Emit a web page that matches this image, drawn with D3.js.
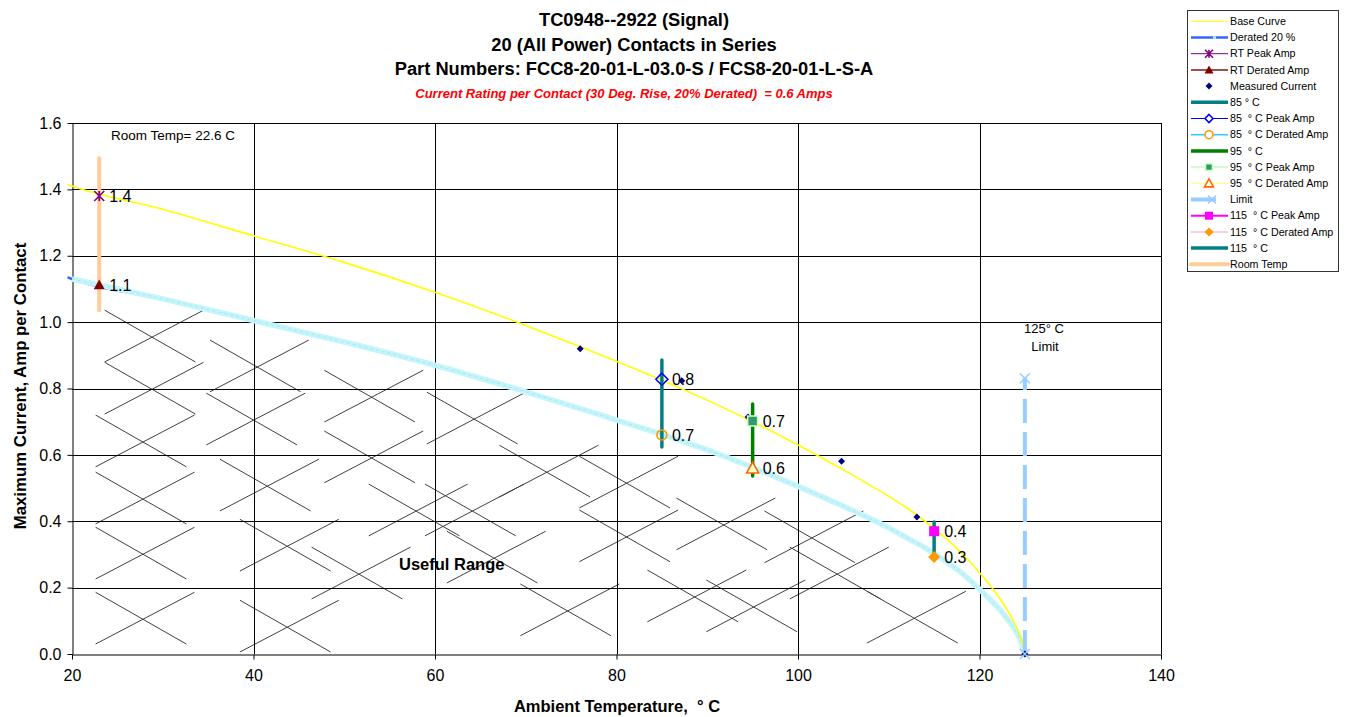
<!DOCTYPE html>
<html>
<head>
<meta charset="utf-8">
<script src="https://cdn.jsdelivr.net/npm/d3@7"></script>
<style>
  body { margin: 0; background: #fff; }
  text { font-family: Arial, "Liberation Sans", sans-serif; }
</style>
</head>
<body>
<svg id="chart" width="1350" height="717"></svg>
<script>

// Values
var baseTemps = [19.5, 20, 30, 40, 50, 60, 70, 76, 80, 85, 90, 95, 100, 105, 110, 112, 114, 116, 118, 120, 121.5, 123, 124, 124.6, 125];
var baseAmps  = [1.415, 1.41, 1.34, 1.26, 1.18, 1.09, 0.99, 0.926, 0.882, 0.825, 0.765, 0.70, 0.63, 0.555, 0.475, 0.44, 0.40, 0.355, 0.305, 0.245, 0.195, 0.135, 0.085, 0.045, 0];

var deratedTemps = [19.5, 20, 30, 40, 50, 60, 70, 80, 85, 90, 95, 100, 105, 110, 112, 114, 116, 118, 120, 121.5, 123, 124, 124.6, 125];
var deratedAmps  = [1.135, 1.13, 1.07, 1.005, 0.94, 0.87, 0.79, 0.705, 0.662, 0.615, 0.562, 0.505, 0.445, 0.38, 0.35, 0.32, 0.285, 0.245, 0.195, 0.155, 0.108, 0.068, 0.036, 0];

var measuredTemps = [76, 87.2, 94.5, 104.8, 113.1, 125];
var measuredAmps  = [0.92, 0.823, 0.714, 0.581, 0.413, 0];

// vertical bars: room temp, 85, 95, 115
var barTemps = [23, 85, 95, 115];
var barLow   = [1.036, 0.624, 0.536, 0.292];
var barHigh  = [1.494, 0.886, 0.753, 0.398];

var limitTemp = 125;
var limitAmps = [0, 0.831];

// labelled points
var pointTemps  = [23, 23, 85, 85, 95, 95, 115, 115];
var pointAmps   = [1.38, 1.112, 0.828, 0.66, 0.702, 0.56, 0.37, 0.292];
var pointLabels = ["1.4", "1.1", "0.8", "0.7", "0.7", "0.6", "0.4", "0.3"];

// "useful range" hatch crosses (centre temp / amp)
var hatchTemps = [28.6, 28.6, 27.6, 27.6, 27.6, 27.6, 40.2, 39.8, 41.3, 43.5, 43.5, 52.8, 52.8, 51.4, 57.7,
                  64.1, 72.1, 63.9, 66.3, 74.4, 80.9, 80.9, 91.6, 88.4, 94.9, 101.3, 104.1, 112.6];
var hatchAmps  = [0.958, 0.801, 0.642, 0.470, 0.304, 0.108, 0.868, 0.708, 0.509, 0.328, 0.084, 0.777, 0.594, 0.244, 0.434,
                  0.711, 0.551, 0.434, 0.292, 0.133, 0.518, 0.356, 0.392, 0.175, 0.145, 0.353, 0.244, 0.111];

var xTicks = [20, 40, 60, 80, 100, 120, 140];
var yTicks = [0, 0.2, 0.4, 0.6, 0.8, 1.0, 1.2, 1.4, 1.6];

var titleLines = ["TC0948--2922 (Signal)", "20 (All Power) Contacts in Series",
                  "Part Numbers: FCC8-20-01-L-03.0-S / FCS8-20-01-L-S-A"];
var subTitle = "Current Rating per Contact (30 Deg. Rise, 20% Derated)  = 0.6 Amps";

var legendNames = ["Base Curve", "Derated 20 %", "RT Peak Amp", "RT Derated Amp", "Measured Current",
                   "85 ° C", "85  ° C Peak Amp", "85  ° C Derated Amp", "95  ° C", "95  ° C Peak Amp",
                   "95  ° C Derated Amp", "Limit", "115  ° C Peak Amp", "115  ° C Derated Amp", "115  ° C", "Room Temp"];

// ---- styles ----
var barColors = ["#ffcc99", "#008080", "#008000", "#008080"];
var pointStyles = [
    {kind: "star", fill: "none", stroke: "#800080", s: 5},
    {kind: "triangle", fill: "#800000", stroke: "none", s: 5.5},
    {kind: "diamond", fill: "none", stroke: "#0000ff", s: 6},
    {kind: "circle", fill: "none", stroke: "#ff9900", s: 5},
    {kind: "square", fill: "#339966", stroke: "#ccffcc", s: 5},
    {kind: "triangle", fill: "#ffffcc", stroke: "#ff6600", s: 6},
    {kind: "square", fill: "#ff00ff", stroke: "none", s: 5},
    {kind: "diamond", fill: "#ff9900", stroke: "none", s: 6}
];
var legendStyles = [
    {line: "#ffff00", w: 1},
    {line: "#3366ff", w: 2.5, gap: true},
    {line: "#800080", w: 1, m: {kind: "star", fill: "none", stroke: "#800080", s: 4}},
    {line: "#a05050", w: 2, m: {kind: "triangle", fill: "#800000", stroke: "none", s: 4.5}},
    {m: {kind: "diamond", fill: "#000080", stroke: "none", s: 3.5}},
    {line: "#008080", w: 3.5},
    {line: "#0000ff", w: 1, m: {kind: "diamond", fill: "#fff", stroke: "#0000ff", s: 4}},
    {line: "#33ccff", w: 1.5, m: {kind: "circle", fill: "#fff", stroke: "#ff9900", s: 4}},
    {line: "#008000", w: 3.5},
    {line: "#ccffcc", w: 2, m: {kind: "square", fill: "#339966", stroke: "#ccffcc", s: 3.5}},
    {line: "#ffff99", w: 1.5, m: {kind: "triangle", fill: "#fff", stroke: "#ff6600", s: 4.5}},
    {line: "#99ccff", w: 4, short: true, m: {kind: "x", fill: "none", stroke: "#99ccff", s: 4}},
    {line: "#ff00ff", w: 2, m: {kind: "square", fill: "#ff00ff", stroke: "none", s: 4}},
    {line: "#ffcce6", w: 2, m: {kind: "diamond", fill: "#ff9900", stroke: "none", s: 4.5}},
    {line: "#008080", w: 3.5},
    {line: "#ffcc99", w: 4}
];

var markerPath = function(kind, s) {
    if (kind === "diamond") return "M0," + (-s) + "L" + s + ",0L0," + s + "L" + (-s) + ",0Z";
    if (kind === "square") return "M" + (-s) + "," + (-s) + "h" + (2 * s) + "v" + (2 * s) + "h" + (-2 * s) + "Z";
    if (kind === "triangle") return "M0," + (-s) + "L" + s + "," + (s * 0.8) + "L" + (-s) + "," + (s * 0.8) + "Z";
    if (kind === "circle") return d3.symbol(d3.symbolCircle, Math.PI * s * s)();
    if (kind === "x") return "M" + (-s) + "," + (-s) + "L" + s + "," + s + "M" + (-s) + "," + s + "L" + s + "," + (-s);
    // asterisk
    return "M" + (-s) + "," + (-s) + "L" + s + "," + s + "M" + (-s) + "," + s + "L" + s + "," + (-s) +
           "M0," + (-s) + "L0," + s;
};

var drawMarker = function(g, st, px, py) {
    g.append("path")
        .attr("d", markerPath(st.kind, st.s))
        .attr("transform", "translate(" + px + "," + py + ")")
        .attr("fill", st.fill)
        .attr("stroke", st.stroke)
        .attr("stroke-width", st.stroke === "none" ? 0 : 1.6);
};

var svg = d3.select("#chart");

var x = d3.scaleLinear().domain([20, 140]).range([72, 1161]);
var y = d3.scaleLinear().domain([0, 1.6]).range([654, 123]);

// titles
svg.selectAll("text.title")
    .data(titleLines)
    .enter().append("text")
        .attr("class", "title")
        .attr("x", 634)
        .attr("y", function(d, i) { return 26 + i * 24.5; })
        .attr("text-anchor", "middle")
        .attr("font-size", "18.3px")
        .attr("font-weight", "bold")
        .text(function(d) { return d; });

svg.append("text")
    .attr("x", 624).attr("y", 98)
    .attr("text-anchor", "middle")
    .attr("font-size", "13px")
    .attr("font-weight", "bold")
    .attr("font-style", "italic")
    .attr("fill", "#ff0000")
    .style("white-space", "pre")
    .text(subTitle);

// hatch
var hw = 5, hh = 0.078;
var hatch = svg.append("g").attr("stroke", "#404040").attr("stroke-width", 1);
hatchTemps.forEach(function(t, i) {
    var a = hatchAmps[i];
    hatch.append("line")
        .attr("x1", x(t - hw)).attr("y1", y(a + hh))
        .attr("x2", x(t + hw)).attr("y2", y(a - hh));
    hatch.append("line")
        .attr("x1", x(t - hw)).attr("y1", y(a - hh))
        .attr("x2", x(t + hw + 0.9)).attr("y2", y(a + hh));
});

// grid
var grid = svg.append("g").attr("stroke", "#000").attr("stroke-width", 1);
grid.selectAll("line.vg")
    .data(xTicks.slice(1))
    .enter().append("line")
        .attr("x1", function(d) { return Math.round(x(d)) + 0.5; })
        .attr("x2", function(d) { return Math.round(x(d)) + 0.5; })
        .attr("y1", y(0)).attr("y2", y(1.6));
grid.selectAll("line.hg")
    .data(yTicks.slice(1))
    .enter().append("line")
        .attr("y1", function(d) { return Math.round(y(d)) + 0.5; })
        .attr("y2", function(d) { return Math.round(y(d)) + 0.5; })
        .attr("x1", x(20)).attr("x2", x(140));

// axes
var xAxis = svg.append("g")
    .attr("transform", "translate(0," + (Math.round(y(0)) + 0.5) + ")")
    .call(d3.axisBottom(x).tickValues(xTicks).tickSize(5).tickSizeOuter(0).tickPadding(10));
var yAxis = svg.append("g")
    .attr("transform", "translate(" + (Math.round(x(20)) + 0.5) + ",0)")
    .call(d3.axisLeft(y).tickValues(yTicks).tickSize(5).tickSizeOuter(0).tickPadding(6)
        .tickFormat(d3.format(".1f")));
[xAxis, yAxis].forEach(function(a) {
    a.selectAll("path, line").attr("stroke", "#000");
    a.selectAll("text").attr("font-size", "16px").attr("fill", "#000")
        .attr("font-family", "Arial, 'Liberation Sans', sans-serif");
});

svg.append("text")
    .attr("x", 617).attr("y", 712)
    .attr("text-anchor", "middle")
    .attr("font-size", "16.5px").attr("font-weight", "bold")
    .style("white-space", "pre")
    .text("Ambient Temperature,  ° C");

svg.append("text")
    .attr("transform", "translate(26,386) rotate(-90)")
    .attr("text-anchor", "middle")
    .attr("font-size", "16.8px").attr("font-weight", "bold")
    .text("Maximum Current, Amp per Contact");

// curves
var line = d3.line()
    .x(function(d) { return x(d[0]); })
    .y(function(d) { return y(d[1]); })
    .curve(d3.curveMonotoneX);

var deratedPts = deratedTemps.map(function(t, i) { return [t, deratedAmps[i]]; });
svg.append("path")
    .attr("d", line(deratedPts))
    .attr("fill", "none").attr("stroke", "#3366ff").attr("stroke-width", 2.5);
var cyanPts = deratedPts.filter(function(d) { return d[0] >= 20; });
svg.append("path")
    .attr("d", line(cyanPts))
    .attr("fill", "none").attr("stroke", "#c4f5fb").attr("stroke-width", 5.5);
svg.append("path")
    .attr("d", line(cyanPts))
    .attr("fill", "none").attr("stroke", "#a9e6f0").attr("stroke-width", 1)
    .attr("stroke-dasharray", "3,3");

var basePts = baseTemps.map(function(t, i) { return [t, baseAmps[i]]; });
svg.append("path")
    .attr("d", line(basePts))
    .attr("fill", "none").attr("stroke", "#ffff00").attr("stroke-width", 1.6);

// limit
svg.append("line")
    .attr("x1", x(limitTemp)).attr("x2", x(limitTemp))
    .attr("y1", y(limitAmps[0])).attr("y2", y(limitAmps[1]))
    .attr("stroke", "#99ccff").attr("stroke-width", 4)
    .attr("stroke-dasharray", "24,9");

// bars
barTemps.forEach(function(t, i) {
    svg.append("line")
        .attr("x1", x(t)).attr("x2", x(t))
        .attr("y1", y(barLow[i])).attr("y2", y(barHigh[i]))
        .attr("stroke", barColors[i])
        .attr("stroke-width", i === 0 ? 4 : 3.5)
        .attr("stroke-linecap", "round");
});

// measured current
measuredTemps.forEach(function(t, i) {
    drawMarker(svg, {kind: "diamond", fill: "#000080", stroke: "none", s: 3.5}, x(t), y(measuredAmps[i]));
});
limitAmps.forEach(function(a) {
    drawMarker(svg, {kind: "x", fill: "none", stroke: "#99ccff", s: 5}, x(limitTemp), y(a));
});

// labelled points
pointTemps.forEach(function(t, i) {
    drawMarker(svg, pointStyles[i], x(t), y(pointAmps[i]));
    svg.append("text")
        .attr("x", x(t) + 10).attr("y", y(pointAmps[i]) + 6)
        .attr("font-size", "16px")
        .text(pointLabels[i]);
});

// annotations
svg.append("text").attr("x", 111).attr("y", 140).attr("font-size", "13.5px").text("Room Temp= 22.6 C");
svg.append("text").attr("x", 1044).attr("y", 333).attr("text-anchor", "middle")
    .attr("font-size", "13px").text("125° C");
svg.append("text").attr("x", 1045).attr("y", 351).attr("text-anchor", "middle")
    .attr("font-size", "13px").text("Limit");
svg.append("text").attr("x", 399).attr("y", 570).attr("font-size", "16.5px")
    .attr("font-weight", "bold").text("Useful Range");

// legend
var lg = svg.append("g");
lg.append("rect")
    .attr("x", 1187.5).attr("y", 10.5).attr("width", 151).attr("height", 261)
    .attr("fill", "#fff").attr("stroke", "#333").attr("stroke-width", 1);
legendNames.forEach(function(name, i) {
    var st = legendStyles[i];
    var cy = 21.3 + i * 16.2;
    if (st.line) {
        lg.append("line")
            .attr("x1", 1191).attr("x2", st.short ? 1216 : 1228)
            .attr("y1", cy).attr("y2", cy)
            .attr("stroke", st.line).attr("stroke-width", st.w)
            .attr("stroke-linecap", i === 15 ? "round" : "butt");
        if (st.gap) {
            lg.append("line")
                .attr("x1", 1213).attr("x2", 1216)
                .attr("y1", cy).attr("y2", cy)
                .attr("stroke", "#c4e8ff").attr("stroke-width", 2.5);
        }
    }
    if (st.m) drawMarker(lg, st.m, st.short ? 1212 : 1209, cy);
    lg.append("text")
        .attr("x", 1230).attr("y", cy + 3.7)
        .attr("font-size", "10.7px")
        .style("white-space", "pre")
        .text(name);
});

</script>
</body>
</html>
